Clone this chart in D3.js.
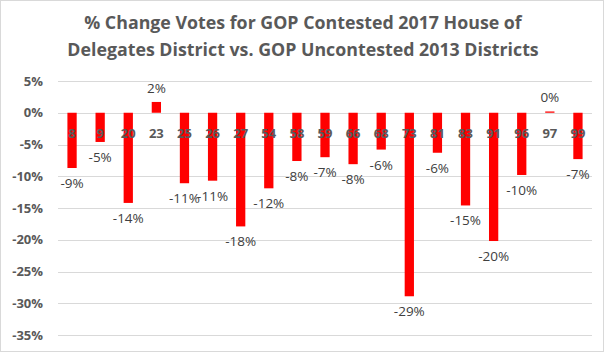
<!DOCTYPE html>
<html>
<head>
<meta charset="utf-8">
<script src="https://cdn.jsdelivr.net/npm/d3@7"></script>
<style>
  body { margin: 0; background: #fff; }
  #chart { width: 604px; height: 352px; }
</style>
</head>
<body>
<div id="chart"></div>
<script>
var width = 604,
    height = 352;

// district numbers and % change
var districts = ["8", "9", "20", "23", "25", "26", "27", "54", "58", "59", "66", "68", "73", "81", "83", "91", "96", "97", "99"];
var changes = [-8.7, -4.6, -14.2, 1.7, -11.1, -10.7, -17.9, -11.9, -7.6, -7.0, -8.1, -5.8, -28.9, -6.3, -14.6, -20.2, -9.8, 0.2, -7.3];
var yTicks = [5, 0, -5, -10, -15, -20, -25, -30, -35];

var data = districts.map(function(d, i) { return { district: d, value: changes[i] }; });

var margin = { top: 81, right: 12, bottom: 17, left: 58 };

var svg = d3.select("#chart").append("svg")
    .attr("width", width)
    .attr("height", height);

// chart border
svg.append("rect")
    .attr("x", 0.5).attr("y", 0.5)
    .attr("width", width - 1).attr("height", height - 1)
    .attr("fill", "#fff")
    .attr("stroke", "#d9d9d9");

var title = svg.append("text")
    .attr("text-anchor", "middle")
    .attr("fill", "#595959")
    .style("font-family", "'Open Sans', sans-serif")
    .style("font-weight", "bold")
    .style("font-size", "17.8px");
title.append("tspan").attr("x", 303).attr("y", 29).text("% Change Votes for GOP Contested 2017 House of");
title.append("tspan").attr("x", 303).attr("y", 56).text("Delegates District vs. GOP Uncontested 2013 Districts");

var x = d3.scaleBand()
    .domain(districts)
    .range([margin.left, width - margin.right])
    .paddingInner(0.67)
    .paddingOuter(0.335);

var y = d3.scaleLinear()
    .domain([-35, 5])
    .range([335, 81]);

var g = svg.append("g");

// gridlines
g.append("g")
    .selectAll("line")
    .data(yTicks)
    .enter().append("line")
    .attr("x1", margin.left)
    .attr("x2", width - margin.right)
    .attr("y1", function(d) { return Math.round(y(d)) + 0.5; })
    .attr("y2", function(d) { return Math.round(y(d)) + 0.5; })
    .attr("stroke", "#d9d9d9")
    .attr("stroke-width", 1);

// y axis labels
var yAxis = d3.axisLeft(y)
    .tickValues(yTicks)
    .tickSize(0)
    .tickPadding(0)
    .tickFormat(function(d) { return d + "%"; });

g.append("g")
    .attr("transform", "translate(43,0)")
    .call(yAxis)
    .call(function(a) { a.select(".domain").remove(); })
    .selectAll("text")
    .attr("fill", "#595959")
    .style("font-family", "'Open Sans', sans-serif")
    .style("font-weight", "bold")
    .style("font-size", "13px");

// bars
g.append("g")
    .selectAll("rect")
    .data(data)
    .enter().append("rect")
    .attr("x", function(d) { return x(d.district); })
    .attr("width", x.bandwidth())
    .attr("y", function(d) { return y(Math.max(0, d.value)); })
    .attr("height", function(d) { return Math.abs(y(d.value) - y(0)); })
    .attr("fill", "#ff0000");

// category labels sit under the zero line, on top of the bars
g.append("g")
    .selectAll("text")
    .data(data)
    .enter().append("text")
    .attr("x", function(d) { return x(d.district) + x.bandwidth() / 2; })
    .attr("y", y(0) + 25)
    .attr("text-anchor", "middle")
    .attr("fill", "#595959")
    .style("font-family", "'Open Sans', sans-serif")
    .style("font-weight", "bold")
    .style("font-size", "13px")
    .text(function(d) { return d.district; });

// data labels
g.append("g")
    .selectAll("text")
    .data(data)
    .enter().append("text")
    .attr("x", function(d) { return x(d.district) + x.bandwidth() / 2; })
    .attr("y", function(d) { return d.value < 0 ? y(d.value) + 20 : y(d.value) - 9; })
    .attr("text-anchor", "middle")
    .attr("fill", "#404040")
    .style("font-family", "'Open Sans', sans-serif")
    .style("font-size", "13.5px")
    .text(function(d) { return Math.round(d.value) + "%"; });
</script>
</body>
</html>
